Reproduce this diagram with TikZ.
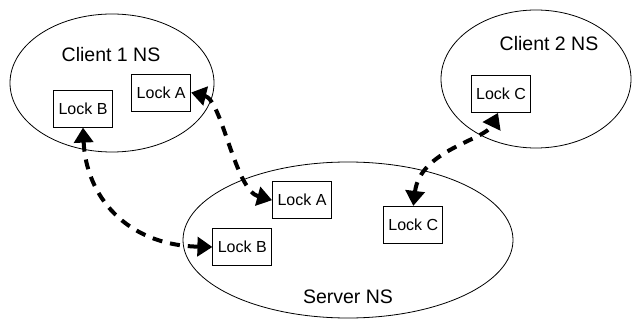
\documentclass[tikz,border=0pt]{standalone}
\usepackage{fontspec}
\setmainfont{Liberation Sans}
\usetikzlibrary{shapes.geometric,arrows.meta}
\tikzset{
  ns/.style={draw=black, line width=0.8pt, ellipse, inner sep=0pt},
  nslabel/.style={font=\fontsize{19.5}{22}\selectfont, inner sep=0pt},
  lockbox/.style={draw=black, line width=0.8pt, minimum width=59pt, minimum height=37pt, inner sep=0pt, font=\fontsize{16}{18}\selectfont, fill=white},
  link/.style={line width=4pt, dash pattern=on 10pt off 8pt,
    {Triangle[length=15pt,width=19pt]}-{Triangle[length=15pt,width=19pt]}}
}
\begin{document}
\begin{tikzpicture}[x=1pt,y=-1pt]
\useasboundingbox (0,0) rectangle (636,320);
% namespaces
\node[ns, minimum width=204pt, minimum height=138pt] (c1) at (112,83) {};
\node[ns, minimum width=190pt, minimum height=138pt] (c2) at (536,79) {};
\node[ns, minimum width=330pt, minimum height=156pt] (sv) at (348,240) {};
\node[nslabel] (c1l) at (111,55) {Client 1 NS};
\node[nslabel] (c2l) at (549,44) {Client 2 NS};
\node[nslabel] (svl) at (348,297) {Server NS};
% locks
\node[lockbox] (c1B) at (83,108.7) {Lock B};
\node[lockbox] (c1A) at (161.2,92.5) {Lock A};
\node[lockbox] (c2C) at (501,94) {Lock C};
\node[lockbox] (sA) at (302,200.2) {Lock A};
\node[lockbox] (sB) at (242.3,247) {Lock B};
\node[lockbox] (sC) at (413.3,224.8) {Lock C};
% links
\draw[link] (c1B.south) .. controls (86,195) and (125,245) .. (sB.west);
\draw[link] (c1A.east) .. controls (222,100) and (235,190) .. (sA.west);
\draw[link] (sC.north) .. controls (420,150) and (485,140) .. ([xshift=-3pt]c2C.south);
\end{tikzpicture}
\end{document}
